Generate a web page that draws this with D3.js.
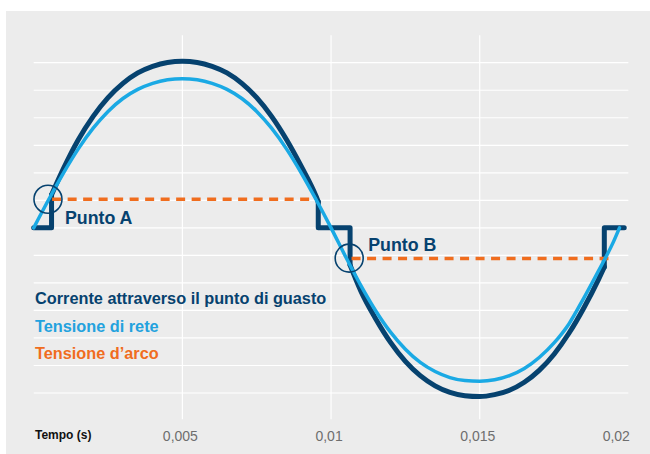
<!DOCTYPE html>
<html>
<head>
<meta charset="utf-8">
<script src="https://cdn.jsdelivr.net/npm/d3@7"></script>
<style>
  body { margin: 0; background: #fff; }
  svg text { font-family: "Liberation Sans", Arial, Helvetica, sans-serif; }
</style>
</head>
<body>
<div id="chart"></div>
<script>
// tempo (s) and values
const voltTime = [0, 0.0005, 0.001, 0.0015, 0.002, 0.0025, 0.003, 0.0035, 0.004, 0.0045,
    0.005, 0.0055, 0.006, 0.0065, 0.007, 0.0075, 0.008, 0.0085, 0.009, 0.0095,
    0.01, 0.0105, 0.011, 0.0115, 0.012, 0.0125, 0.013, 0.0135, 0.014, 0.0145,
    0.015, 0.0155, 0.016, 0.0165, 0.017, 0.0175, 0.018, 0.0185, 0.019, 0.0195, 0.0197];
const voltValues = [0, 1.02, 1.99, 2.87, 3.62, 4.23, 4.70, 5.03, 5.25, 5.38,
    5.42, 5.38, 5.25, 5.03, 4.70, 4.23, 3.62, 2.87, 1.99, 1.02,
    0, -1.07, -2.09, -3.01, -3.79, -4.41, -4.89, -5.22, -5.44, -5.55,
    -5.57, -5.52, -5.37, -5.11, -4.71, -4.18, -3.49, -2.55, -1.55, -0.5, 0];

const currTime = [0, 0.0006, 0.0006, 0.001, 0.0015, 0.002, 0.0025, 0.003, 0.0035, 0.004, 0.0045,
    0.005, 0.0055, 0.006, 0.0065, 0.007, 0.0075, 0.008, 0.0085, 0.009, 0.0095, 0.00957,
    0.00957, 0.01064, 0.01064, 0.011, 0.0115, 0.012, 0.0125, 0.013, 0.0135, 0.014, 0.0145,
    0.015, 0.0155, 0.016, 0.0165, 0.017, 0.0175, 0.018, 0.0185, 0.019, 0.01919,
    0.01919, 0.01986];
const currValues = [0, 0, 1.2, 2.15, 3.2, 4.05, 4.73, 5.25, 5.63, 5.87, 6.01,
    6.05, 6.01, 5.87, 5.63, 5.25, 4.73, 4.05, 3.21, 2.23, 1.14, 0.95,
    0, 0, -1.35, -2.29, -3.30, -4.16, -4.85, -5.37, -5.74, -5.98, -6.10,
    -6.13, -6.06, -5.90, -5.61, -5.18, -4.59, -3.83, -2.91, -1.86, -1.42,
    0, 0];

// arc voltage segments (start, end, level)
const arcStart = [0.00062, 0.01069];
const arcEnd = [0.00953, 0.01933];
const arcLevel = [1.04, -1.11];

const pointLabels = ["Punto A", "Punto B"];
const pointTime = [0.00048, 0.01061];
const pointValue = [1.04, -1.10];

const xTicks = [0.005, 0.01, 0.015, 0.02];
const xTickLabels = ["0,005", "0,01", "0,015", "0,02"];
const yGrid = d3.range(-6, 7);

const legendLabels = ["Corrente attraverso il punto di guasto", "Tensione di rete", "Tensione d\u2019arco"];

const dark = "#06426f";
const light = "#1aa9e4";
const orange = "#f06d1e";
const legendColors = [dark, "#23a2de", orange];

const width = 650, height = 454;

const svg = d3.select("#chart").append("svg")
    .attr("width", width)
    .attr("height", height);

// gray panel
svg.append("rect")
    .attr("x", 6).attr("y", 11)
    .attr("width", width - 6).attr("height", height - 11)
    .attr("fill", "#ececec");

const x = d3.scaleLinear().domain([0, 0.02]).range([33.7, 628.4]);
const y = d3.scaleLinear().domain([-6, 6]).range([393, 62.7]);

// grid
svg.append("g").selectAll("line")
    .data(yGrid)
    .join("line")
    .attr("x1", x(0)).attr("x2", x(0.02))
    .attr("y1", d => y(d)).attr("y2", d => y(d))
    .attr("stroke", "#fff")
    .attr("stroke-width", 1.2);

svg.append("g").selectAll("line")
    .data(xTicks.slice(0, 3))
    .join("line")
    .attr("x1", d => x(d)).attr("x2", d => x(d))
    .attr("y1", y(7)).attr("y2", y(-6.95))
    .attr("stroke", "#fff")
    .attr("stroke-width", 1.2);

// x axis labels
const xAxis = d3.axisBottom(x)
    .tickValues(xTicks)
    .tickFormat((d, i) => xTickLabels[i])
    .tickSize(0)
    .tickPadding(0);

const axisG = svg.append("g")
    .attr("transform", "translate(-2.5, 430)")
    .call(xAxis);
axisG.select(".domain").remove();
axisG.selectAll("text")
    .attr("font-family", "Liberation Sans, Arial, sans-serif")
    .attr("font-size", "14px")
    .attr("fill", "#6e6e6e")
    .attr("dy", null)
    .attr("y", 11);
// last label sits flush with the plot edge
axisG.selectAll(".tick").filter(d => d === 0.02).select("text")
    .attr("text-anchor", "end")
    .attr("dx", 3.5);

svg.append("text")
    .attr("x", 35).attr("y", 439)
    .attr("font-size", "12px")
    .attr("font-weight", "bold")
    .attr("fill", "#111")
    .text("Tempo (s)");

// current: split into straight (jump / zero) pieces and curved pieces
const currPts = currTime.map((t, i) => ({ t, v: currValues[i] }));
const pieces = [];
for (let i = 0; i < currPts.length - 1; i++) {
    const a = currPts[i], b = currPts[i + 1];
    const straight = a.t === b.t || (a.v === 0 && b.v === 0);
    const last = pieces[pieces.length - 1];
    if (last && last.straight === straight) last.pts.push(b);
    else pieces.push({ straight, pts: [a, b] });
}

const lineLinear = d3.line().x(d => x(d.t)).y(d => y(d.v));
const lineCurve = d3.line().x(d => x(d.t)).y(d => y(d.v)).curve(d3.curveMonotoneX);

svg.append("g").selectAll("path")
    .data(pieces)
    .join("path")
    .attr("d", d => d.straight ? lineLinear(d.pts) : lineCurve(d.pts))
    .attr("fill", "none")
    .attr("stroke", dark)
    .attr("stroke-width", 5)
    .attr("stroke-linecap", "round")
    .attr("stroke-linejoin", "round");

// arc voltage
svg.append("g").selectAll("line")
    .data(arcStart)
    .join("line")
    .attr("x1", d => x(d))
    .attr("x2", (d, i) => x(arcEnd[i]))
    .attr("y1", (d, i) => y(arcLevel[i]))
    .attr("y2", (d, i) => y(arcLevel[i]))
    .attr("stroke", orange)
    .attr("stroke-width", 3.5)
    .attr("stroke-dasharray", "9,6.5");

// grid voltage
const voltPts = voltTime.map((t, i) => ({ t, v: voltValues[i] }));
svg.append("path")
    .datum(voltPts)
    .attr("d", lineCurve)
    .attr("fill", "none")
    .attr("stroke", light)
    .attr("stroke-width", 3.5)
    .attr("stroke-linecap", "round");

// point markers
svg.append("g").selectAll("circle")
    .data(pointTime)
    .join("circle")
    .attr("cx", d => x(d))
    .attr("cy", (d, i) => y(pointValue[i]))
    .attr("r", 14)
    .attr("fill", "none")
    .attr("stroke", dark)
    .attr("stroke-width", 1.6);

const labelDx = [17, 19];
const labelDy = [24.5, -6.8];
svg.append("g").selectAll("text")
    .data(pointLabels)
    .join("text")
    .attr("x", (d, i) => x(pointTime[i]) + labelDx[i])
    .attr("y", (d, i) => y(pointValue[i]) + labelDy[i])
    .attr("font-size", "17.8px")
    .attr("font-weight", "bold")
    .attr("fill", dark)
    .text(d => d);

// legend
svg.append("g").selectAll("text")
    .data(legendLabels)
    .join("text")
    .attr("x", 35)
    .attr("y", (d, i) => 304 + i * 27.5)
    .attr("font-size", "16.3px")
    .attr("font-weight", "bold")
    .attr("fill", (d, i) => legendColors[i])
    .text(d => d);
</script>
</body>
</html>
